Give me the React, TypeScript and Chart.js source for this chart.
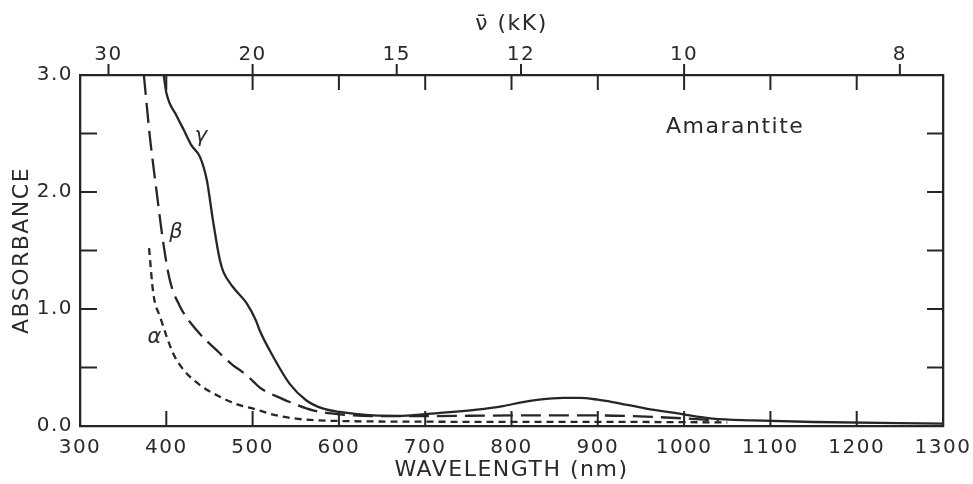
import { useEffect, useRef } from "react";
import { Chart, registerables } from "chart.js";

Chart.register(...registerables);

// ---- data ----
const gammaNm = [397, 400, 412, 421, 429, 439, 447, 454, 462, 466, 477, 493, 504, 508, 524, 543, 562, 581, 601, 640, 670, 697, 760, 790, 813, 832, 860, 879, 900, 917, 956, 994, 1033, 1080, 1150, 1300];
const gammaAbs = [3.0, 2.85, 2.65, 2.52, 2.4, 2.3, 2.1, 1.76, 1.42, 1.32, 1.19, 1.05, 0.9, 0.82, 0.59, 0.36, 0.22, 0.15, 0.12, 0.09, 0.087, 0.1, 0.14, 0.17, 0.205, 0.226, 0.24, 0.24, 0.225, 0.205, 0.149, 0.106, 0.063, 0.048, 0.034, 0.02];

const betaNm = [374, 381, 389, 396, 404, 416, 435, 458, 477, 485, 501, 508, 535, 543, 570, 601, 650, 700, 800, 900, 1000, 1040];
const betaAbs = [3.0, 2.47, 1.99, 1.59, 1.25, 1.02, 0.82, 0.65, 0.52, 0.48, 0.38, 0.33, 0.23, 0.205, 0.134, 0.1, 0.085, 0.085, 0.09, 0.09, 0.065, 0.045];

const alphaNm = [380, 385, 393, 408, 420, 439, 462, 485, 500, 528, 562, 600, 700, 800, 900, 1000, 1050];
const alphaAbs = [1.52, 1.13, 0.93, 0.62, 0.48, 0.35, 0.25, 0.178, 0.15, 0.09, 0.054, 0.043, 0.037, 0.035, 0.035, 0.033, 0.03];

const topTickNm = [333, 500, 667, 811, 1000, 1250];
const topTickLabels = ["30", "20", "15", "12", "10", "8"];

const curveLabels = ["γ", "β", "α"];
const curveLabelNm = [441, 412, 387];
const curveLabelAbs = [2.47, 1.65, 0.76];

const sampleName = "Amarantite";
const sampleNameNm = 979;
const sampleNameAbs = 2.55;

const xTitle = "WAVELENGTH (nm)";
const yTitle = "ABSORBANCE";
const topTitle = "ν̄ (kK)";

// ---- styles ----
const INK = "#262626";
const TEXT = "#2a2a2a";
const FONT = "'DejaVu Sans', sans-serif";
const SPACING = "1.5px";

const toPoints = (xs: number[], ys: number[]) => xs.map((v, i) => ({ x: v, y: ys[i] }));

const spacingPlugin = {
  id: "spacing",
  beforeLayout(chart: any) {
    (chart.ctx as any).letterSpacing = SPACING;
  },
  beforeDraw(chart: any) {
    (chart.ctx as any).letterSpacing = SPACING;
  },
};

const decorPlugin = {
  id: "decor",
  afterDraw(chart: any) {
    const ctx = chart.ctx as CanvasRenderingContext2D;
    const { x, x2, y } = chart.scales;
    const a = chart.chartArea;
    ctx.save();
    ctx.strokeStyle = INK;
    ctx.lineWidth = 2;
    const line = (x0: number, y0: number, x1: number, y1: number) => {
      ctx.beginPath();
      ctx.moveTo(x0, y0);
      ctx.lineTo(x1, y1);
      ctx.stroke();
    };
    x.ticks.forEach((t: any) => {
      if (t.value <= x.min || t.value >= x.max) return;
      const px = x.getPixelForValue(t.value);
      line(px, a.bottom, px, a.bottom - 15);
      line(px, a.top, px, a.top + 15);
    });
    x2.ticks.forEach((t: any) => {
      const px = x2.getPixelForValue(t.value);
      line(px, a.top, px, a.top - 11);
    });
    y.ticks.forEach((t: any) => {
      if (t.value <= y.min || t.value >= y.max) return;
      const py = y.getPixelForValue(t.value);
      line(a.left, py, a.left + 17, py);
      line(a.right, py, a.right - 16, py);
    });
    (ctx as any).letterSpacing = SPACING;
    ctx.fillStyle = TEXT;
    ctx.textBaseline = "middle";
    ctx.textAlign = "center";
    ctx.font = `italic 21px ${FONT}`;
    curveLabels.forEach((s, i) => {
      ctx.fillText(s, x.getPixelForValue(curveLabelNm[i]), y.getPixelForValue(curveLabelAbs[i]));
    });
    ctx.textAlign = "left";
    ctx.font = `22px ${FONT}`;
    ctx.fillText(sampleName, x.getPixelForValue(sampleNameNm), y.getPixelForValue(sampleNameAbs));
    ctx.restore();
  },
};

export default function App() {
  const ref = useRef<HTMLCanvasElement>(null);

  useEffect(() => {
    if (!ref.current) return;
    const tickFont = { family: FONT, size: 20 };
    const noPad = (s: any) => {
      s.paddingLeft = 0;
      s.paddingRight = 0;
    };
    const chart = new Chart(ref.current, {
      type: "line",
      data: {
        datasets: [
          {
            label: "γ",
            data: toPoints(gammaNm, gammaAbs),
            borderColor: INK,
            borderWidth: 2.3,
            pointRadius: 0,
            cubicInterpolationMode: "monotone",
            fill: false,
          },
          {
            label: "β",
            data: toPoints(betaNm, betaAbs),
            borderColor: INK,
            borderWidth: 2.3,
            borderDash: [20, 8],
            pointRadius: 0,
            cubicInterpolationMode: "monotone",
            fill: false,
          },
          {
            label: "α",
            data: toPoints(alphaNm, alphaAbs),
            borderColor: INK,
            borderWidth: 2.3,
            borderDash: [7, 5],
            pointRadius: 0,
            cubicInterpolationMode: "monotone",
            fill: false,
          },
        ],
      },
      options: {
        animation: false,
        responsive: true,
        maintainAspectRatio: false,
        layout: { padding: 0 },
        plugins: { legend: { display: false }, tooltip: { enabled: false } },
        scales: {
          x: {
            type: "linear",
            position: "bottom",
            min: 300,
            max: 1300,
            grid: { display: false, drawTicks: false, tickLength: 0 },
            border: { display: true, color: INK, width: 2.3 },
            ticks: {
              stepSize: 100,
              color: TEXT,
              font: tickFont,
              padding: 10,
              autoSkip: false,
              maxRotation: 0,
              callback: (v: any) => String(v),
            },
            title: { display: true, text: xTitle, color: TEXT, font: { family: FONT, size: 22 }, padding: { top: 0, bottom: 1 } },
            afterFit: (s: any) => {
              s.height = 58;
              noPad(s);
            },
          },
          x2: {
            type: "linear",
            position: "top",
            min: 300,
            max: 1300,
            grid: { display: false, drawTicks: false, tickLength: 0 },
            border: { display: true, color: INK, width: 2.3 },
            afterBuildTicks: (s: any) => {
              s.ticks = topTickNm.map((v) => ({ value: v }));
            },
            ticks: {
              color: TEXT,
              font: tickFont,
              padding: 8,
              autoSkip: false,
              maxRotation: 0,
              callback: (_v: any, i: number) => topTickLabels[i],
            },
            title: { display: true, text: topTitle, color: TEXT, font: { family: FONT, size: 22 }, padding: { top: 11, bottom: 0 } },
            afterFit: (s: any) => {
              s.height = 75;
              noPad(s);
            },
          },
          y: {
            type: "linear",
            position: "left",
            min: 0,
            max: 3,
            grid: { display: false, drawTicks: false, tickLength: 0 },
            border: { display: true, color: INK, width: 2.3 },
            ticks: {
              stepSize: 0.5,
              color: TEXT,
              font: tickFont,
              padding: 7,
              autoSkip: false,
              callback: (v: any) => (Number.isInteger(Number(v)) ? Number(v).toFixed(1) : ""),
            },
            title: { display: true, text: yTitle, color: TEXT, font: { family: FONT, size: 22 }, padding: { top: 9, bottom: 0 } },
            afterFit: (s: any) => {
              s.width = 80;
            },
          },
          y2: {
            type: "linear",
            position: "right",
            min: 0,
            max: 3,
            grid: { display: false, drawTicks: false, tickLength: 0 },
            border: { display: true, color: INK, width: 2.3 },
            ticks: { display: false, stepSize: 0.5 },
            afterFit: (s: any) => {
              s.width = 30;
            },
          },
        },
      } as any,
      plugins: [spacingPlugin, decorPlugin],
    });
    return () => chart.destroy();
  }, []);

  return (
    <div style={{ position: "fixed", left: 0, top: 0, width: 973, height: 484, background: "#fff" }}>
      <canvas ref={ref} />
    </div>
  );
}
